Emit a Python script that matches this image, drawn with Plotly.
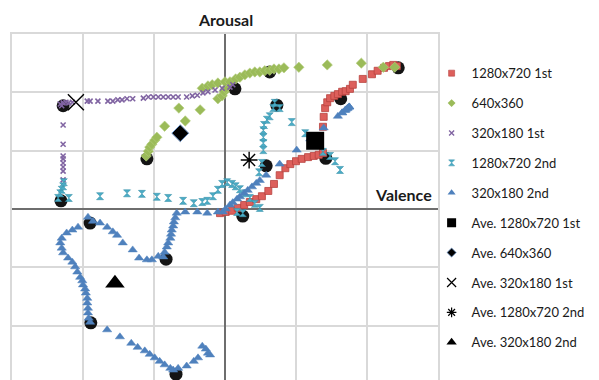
import plotly.graph_objects as go

# ---- series data (valence, arousal) ----
hd1_x = [-0.07, 0.01, 0.10, 0.18, 0.27, 0.35, 0.44, 0.52, 0.61, 0.69, 0.77, 0.85, 0.92, 1.00,
         1.08, 1.17, 1.25, 1.32, 1.38, 1.38, 1.39, 1.41, 1.44, 1.48, 1.54, 1.59, 1.65, 1.70,
         1.76, 1.80, 1.94, 2.07, 2.15, 2.24, 2.31, 2.37, 2.42]
hd1_y = [-0.07, -0.05, -0.03, 0.02, 0.07, 0.12, 0.17, 0.22, 0.31, 0.43, 0.58, 0.70, 0.77, 0.82,
         0.86, 0.89, 0.91, 0.93, 0.96, 1.41, 1.58, 1.73, 1.83, 1.90, 1.94, 1.97, 2.01, 2.02,
         2.06, 2.13, 2.23, 2.31, 2.37, 2.42, 2.45, 2.47, 2.45]

sd_x = [-1.11, -1.08, -1.06, -1.03, -0.99, -0.96, -0.85, -0.65, -0.56, -0.35, -0.32, -0.24,
        -0.18, -0.10, -0.10, -0.04, -0.01, 0.01, 0.00, 0.07, 0.15, 0.21, 0.28, 0.35, 0.42,
        0.49, 0.56, 0.63, 0.69, 0.76, 0.83, 1.04, 1.44, 1.92, 2.23, 2.39]
sd_y = [0.91, 0.99, 1.06, 1.11, 1.18, 1.23, 1.42, 1.73, 1.51, 1.70, 2.07, 2.11, 2.13, 2.16,
        1.89, 1.94, 2.01, 2.07, 2.18, 2.18, 2.23, 2.26, 2.30, 2.33, 2.35, 2.35, 2.37, 2.38,
        2.40, 2.40, 2.42, 2.43, 2.47, 2.50, 2.43, 2.43]

lo1_x = [-2.32, -2.30, -2.28, -2.24, -2.20, -2.15, -1.94, -1.90, -1.79, -1.65, -1.58, -1.51,
         -1.45, -1.38, -1.30, -1.15, -1.08, -1.01, -0.94, -0.87, -0.80, -0.73, -0.66, -0.54,
         -0.46, -0.39, -0.31, -0.24, -0.14, -0.04, 0.07, 0.11,
         -2.28, -2.28, -2.28, -2.28, -2.28, -2.28, -2.28, -2.28]
lo1_y = [1.80, 1.77, 1.82, 1.83, 1.82, 1.83, 1.85, 1.85, 1.85, 1.85, 1.85, 1.87,
         1.87, 1.89, 1.89, 1.90, 1.92, 1.92, 1.92, 1.92, 1.92, 1.92, 1.92, 1.92,
         1.94, 1.95, 1.99, 2.01, 2.04, 2.07, 2.09, 2.13,
         1.44, 1.11, 0.91, 0.86, 0.79, 0.72, 0.65, 0.50]

hd2_x = [-2.35, -2.32, -2.30, -2.28, -2.27, -2.20, -1.76, -1.38, -1.17, -0.96, -0.80, -0.59,
         -0.44, -0.32, -0.25, -0.17, -0.10, -0.04, 0.03, 0.10, 0.15, 0.21, 0.28, 0.35, 0.42,
         0.49, 0.25, 0.17, 0.48, 0.52, 0.54, 0.54, 0.54, 0.54, 0.55, 0.59, 0.63, 0.68, 0.70,
         0.77, 0.94, 1.13, 1.38, 1.48, 1.55, 1.62]
hd2_y = [0.19, 0.27, 0.33, 0.39, 0.46, 0.19, 0.22, 0.27, 0.26, 0.21, 0.19, 0.14,
         0.10, 0.12, 0.14, 0.22, 0.33, 0.43, 0.46, 0.43, 0.39, 0.34, 0.27, 0.19, 0.09,
         0.02, -0.07, -0.05, 0.63, 0.79, 1.01, 1.13, 1.23, 1.35, 1.44, 1.53, 1.59, 1.73, 1.82,
         1.73, 1.49, 1.30, 0.98, 0.91, 0.82, 0.67]

lo2_x = [-0.03, -0.10, -0.25, -0.39, -0.56, -0.68, -0.70, -0.72, -0.73, -0.75, -0.76, -0.77,
         -0.80, -0.82, -0.85, -0.87, -0.94, -1.03, -1.10, -1.21, -1.30, -1.44, -1.52, -1.58,
         -1.66, -1.76, -1.86, -1.93, -2.07, -2.15, -2.23, -2.30, -2.32, -2.30, -2.28, -2.21,
         -2.15, -2.11, -2.08, -2.04, -2.01, -2.00, -1.97, -1.96, -1.94, -1.94, -1.93, -1.93,
         -1.92, -1.90, -1.66, -1.48, -1.32, -1.23, -1.13, -1.06, -0.99, -0.92, -0.85, -0.77,
         -0.73, -0.66, -0.54, -0.44, -0.38, -0.32, -0.27, -0.24, -0.21,
         0.01, 0.07, 0.11, 0.17, 0.21, 0.27, 0.32, 0.38, 0.44, 0.49, 0.58, 0.77, 1.01, 1.20,
         1.39, 1.59, 1.65, 1.69, 1.72, 1.73, 1.75, 1.75, 1.75, 1.70, 1.65]
lo2_y = [-0.05, -0.05, -0.07, -0.05, -0.05, -0.07, -0.15, -0.22, -0.29, -0.36, -0.43, -0.50,
         -0.58, -0.65, -0.74, -0.82, -0.81, -0.87, -0.87, -0.84, -0.70, -0.58, -0.45, -0.39,
         -0.31, -0.24, -0.21, -0.14, -0.31, -0.36, -0.41, -0.50, -0.58, -0.67, -0.75, -0.84,
         -0.91, -0.99, -1.08, -1.17, -1.23, -1.30, -1.37, -1.44, -1.53, -1.61, -1.70, -1.78,
         -1.87, -1.94, -2.07, -2.19, -2.30, -2.37, -2.43, -2.49, -2.55, -2.61, -2.67, -2.73,
         -2.76, -2.73, -2.69, -2.61, -2.55, -2.35, -2.40, -2.47, -2.50,
         0.00, 0.07, 0.11, 0.17, 0.21, 0.27, 0.32, 0.38, 0.44, 0.49, 0.58, 0.77, 1.01, 1.20,
         1.39, 1.59, 1.65, 1.69, 1.72, 1.73, 1.75, 1.75, 1.75, 1.70, 1.65]

# segment boundary points, shown as dark halos under the markers
key_x = [-1.10, 0.14, 0.63, 2.44, 1.63, 1.42, 0.25, 0.58, 0.73, -2.31, -1.90, -0.83, -1.89, -0.69, -2.28]
key_y = [0.86, 2.06, 2.35, 2.42, 1.89, 0.87, -0.12, 0.74, 1.78, 0.14, -0.24, -0.86, -1.95, -2.83, 1.77]

# averages per condition
ave_names = ["Ave. 1280x720 1st", "Ave. 640x360", "Ave. 320x180 1st",
             "Ave. 1280x720 2nd", "Ave. 320x180 2nd"]
ave_x = [1.27, -0.63, -2.10, 0.34, -1.55]
ave_y = [1.17, 1.30, 1.83, 0.84, -1.27]

grid_vals = [-3, -2, -1, 0, 1, 2, 3]

fig = go.Figure()

fig.add_trace(go.Scatter(
    x=key_x, y=key_y, mode="markers", showlegend=False, hoverinfo="skip",
    marker=dict(symbol="circle", size=13, color="rgba(0,0,0,0.92)", line=dict(width=0))))

series = [
    ("1280x720 1st", hd1_x, hd1_y,
     dict(symbol="square", size=7, color="#DD5F5B", line=dict(color="#B8423F", width=0.8)),
     dict(symbol="square", size=6, color="#DD5F5B", line=dict(color="#B8423F", width=0.6))),
    ("640x360", sd_x, sd_y,
     dict(symbol="diamond", size=8, color="#9BBB59", line=dict(color="#B5CF80", width=0.6)),
     dict(symbol="diamond", size=6, color="#9BBB59", line=dict(width=0))),
    ("320x180 1st", lo1_x, lo1_y,
     dict(symbol="x-thin", size=5, color="#8064A2", line=dict(color="#8064A2", width=1.6)),
     dict(symbol="x-thin", size=5, color="#8064A2", line=dict(color="#8064A2", width=1.4))),
    ("1280x720 2nd", hd2_x, hd2_y,
     dict(symbol="hourglass", size=7, color="#4BACC6", line=dict(color="#3A93AB", width=0.6)),
     dict(symbol="hourglass", size=6, color="#4BACC6", line=dict(color="#3A93AB", width=0.5))),
    ("320x180 2nd", lo2_x, lo2_y,
     dict(symbol="triangle-up", size=8, color="#4F81BD", line=dict(color="#4F81BD", width=0.5)),
     dict(symbol="triangle-up", size=7, color="#4F81BD", line=dict(width=0))),
]
# data traces (legend entries are added separately with smaller swatches)
for i, (name, xs, ys, mk, _) in enumerate(series):
    fig.add_trace(go.Scatter(x=xs, y=ys, mode="markers", name=name, marker=mk,
                             showlegend=False))

ave_markers = [
    dict(symbol="square", size=18, color="#000000"),
    dict(symbol="diamond", size=13, color="#000000", line=dict(color="#6F95C8", width=1)),
    dict(symbol="x-thin", size=16, color="#000000", line=dict(color="#000000", width=1.4)),
    dict(symbol="asterisk", size=14, color="#000000", line=dict(color="#000000", width=1.4)),
    dict(symbol="triangle-up", size=17, color="#000000"),
]
ave_legend_markers = [
    dict(symbol="square", size=9, color="#000000"),
    dict(symbol="diamond", size=7, color="#000000", line=dict(color="#6F95C8", width=0.8)),
    dict(symbol="x-thin", size=9, color="#000000", line=dict(color="#000000", width=1.2)),
    dict(symbol="asterisk", size=8, color="#000000", line=dict(color="#000000", width=1.2)),
    dict(symbol="triangle-up", size=9, color="#000000"),
]
for name, ax, ay, mk in zip(ave_names, ave_x, ave_y, ave_markers):
    fig.add_trace(go.Scatter(x=[ax], y=[ay], mode="markers", name=name, marker=mk,
                             showlegend=False))

# legend swatches
for i, (name, _, _, _, lmk) in enumerate(series):
    fig.add_trace(go.Scatter(x=[None], y=[None], mode="markers", name=name, marker=lmk,
                             legendgroup=f"g{i}", hoverinfo="skip"))
for j, (name, lmk) in enumerate(zip(ave_names, ave_legend_markers)):
    fig.add_trace(go.Scatter(x=[None], y=[None], mode="markers", name=name, marker=lmk,
                             legendgroup=f"a{j}", hoverinfo="skip"))

axis_common = dict(
    showgrid=True, gridcolor="#D9D9D9", gridwidth=1.6,
    zeroline=True, zerolinecolor="#6E6E6E", zerolinewidth=1.6,
    showline=True, linecolor="#D9D9D9", linewidth=1.6, mirror=True,
    showticklabels=False, ticks="", tickvals=grid_vals,
)

fig.update_layout(
    width=599, height=380,
    margin=dict(l=12, r=161, t=34, b=0),
    paper_bgcolor="white", plot_bgcolor="white",
    font=dict(family="Lato, 'Open Sans', sans-serif", size=13, color="#1A1A1A"),
    xaxis=dict(range=[-3, 3], **axis_common),
    yaxis=dict(range=[-2.93, 3], **axis_common),
    legend=dict(x=0.985, y=0.93, xanchor="left", yanchor="top",
                traceorder="grouped", tracegroupgap=10, itemsizing="trace", itemwidth=30,
                font=dict(size=13, color="#1A1A1A"), bgcolor="rgba(0,0,0,0)"),
    showlegend=True,
    annotations=[
        dict(text="<b>Arousal</b>", x=0, y=1, xref="x", yref="paper",
             xanchor="center", yanchor="bottom", yshift=3, showarrow=False,
             font=dict(size=16, color="#1A1A1A")),
        dict(text="<b>Valence</b>", x=3, y=0, xref="x", yref="y",
             xanchor="right", yanchor="bottom", xshift=-4, yshift=3, showarrow=False,
             font=dict(size=16, color="#1A1A1A")),
    ],
)

fig.write_html("out.html")
